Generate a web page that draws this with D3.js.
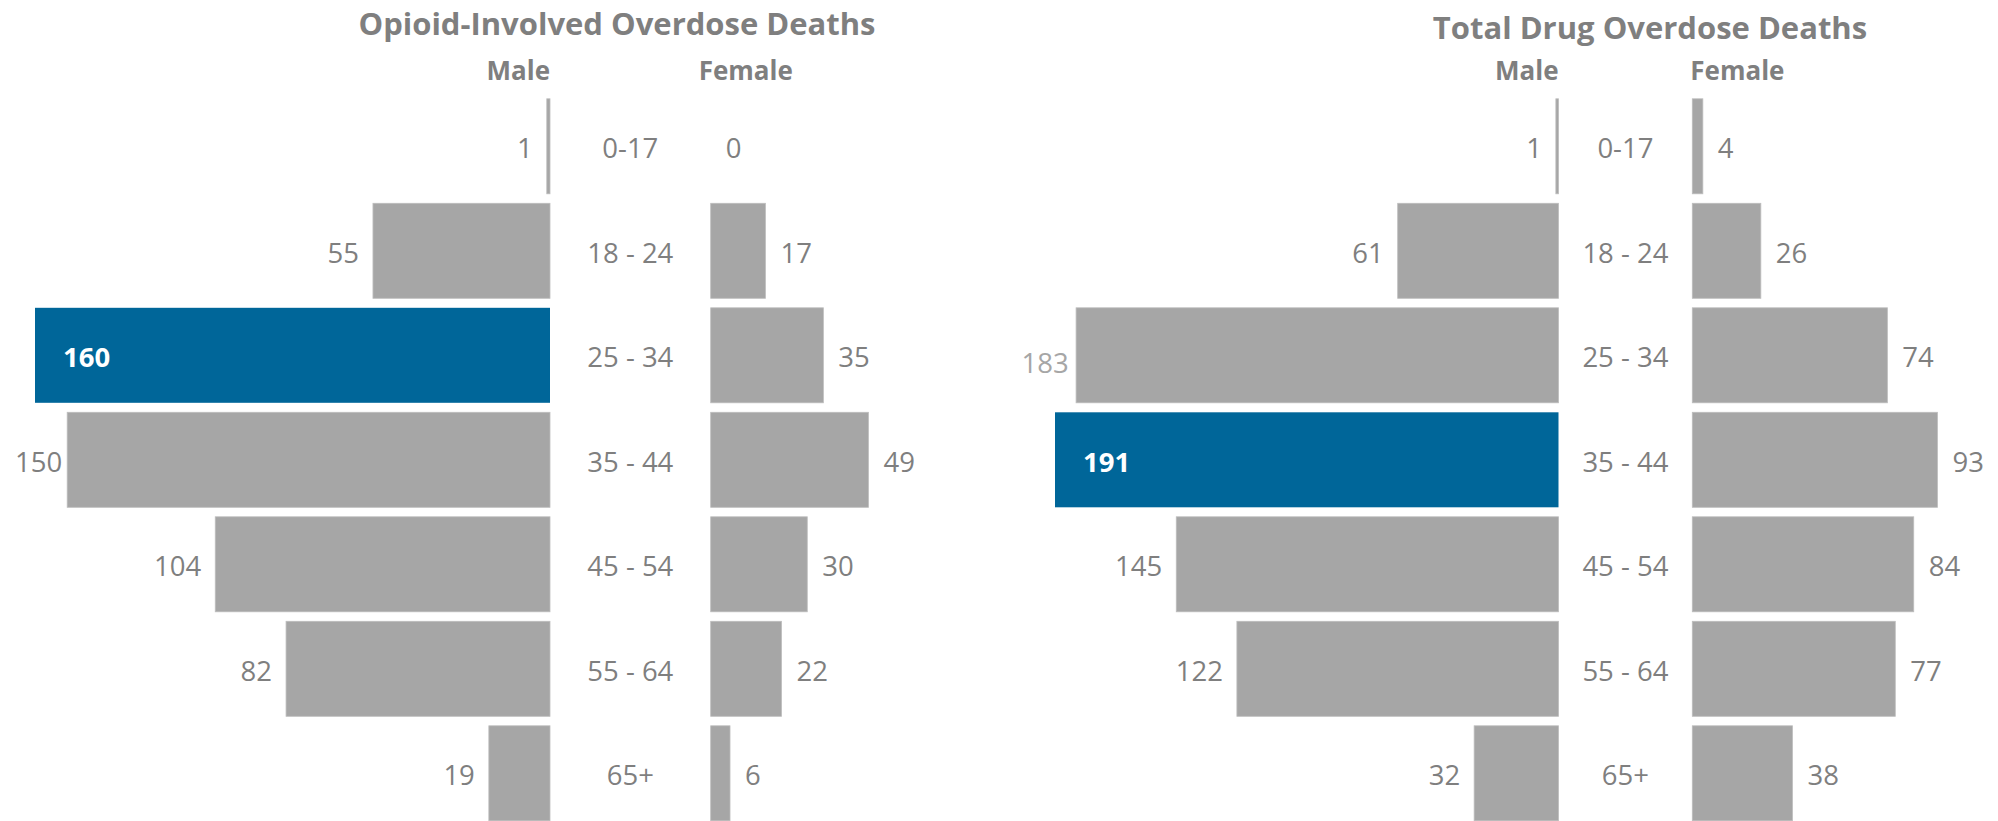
<!DOCTYPE html>
<html>
<head>
<meta charset="utf-8">
<script src="https://cdn.jsdelivr.net/npm/d3@7"></script>
<style>
  html, body { margin: 0; padding: 0; background: #ffffff; }
  svg { display: block; font-family: "Open Sans", "Noto Sans", sans-serif; }
</style>
</head>
<body>
<svg id="chart" width="1998" height="821"></svg>
<script>
// ---- data ----
const ageGroups = ["0-17", "18 - 24", "25 - 34", "35 - 44", "45 - 54", "55 - 64", "65+"];
const opioidMale   = [1, 55, 160, 150, 104, 82, 19];
const opioidFemale = [0, 17, 35, 49, 30, 22, 6];
const totalMale    = [1, 61, 183, 191, 145, 122, 32];
const totalFemale  = [4, 26, 74, 93, 84, 77, 38];
const panelTitles  = ["Opioid-Involved Overdose Deaths", "Total Drug Overdose Deaths"];
const sexLabels    = ["Male", "Female"];

// ---- layout / style ----
const GRAY_BAR = "#a6a6a6", BLUE = "#006699", TEXT = "#7f7f7f", MUTED = "#a6a6a6";
const svg = d3.select("#chart");

const y = d3.scaleBand()
  .domain(ageGroups)
  .range([94.05, 94.05 + 7 * 104.5])
  .paddingInner(0.0909)
  .paddingOuter(0.04545);

const panels = [
  { title: panelTitles[0], male: opioidMale, female: opioidFemale,
    maleBase: 550, femaleBase: 710.7, maxVal: 160, maxPx: 515,
    minLabelX: 15, titleX: 617, titleY: 35, femaleHeadDx: -12, muted: null },
  { title: panelTitles[1], male: totalMale, female: totalFemale,
    maleBase: 1558.5, femaleBase: 1692.3, maxVal: 191, maxPx: 503.5,
    minLabelX: 1021.5, titleX: 1650, titleY: 39, femaleHeadDx: -2, muted: "25 - 34" }
];

const FS = 27.5;
const baseOff = 12;

panels.forEach(p => {
  const g = svg.append("g");
  const w = d3.scaleLinear().domain([0, p.maxVal]).range([0, p.maxPx]);
  const maxMale = d3.max(p.male);

  // title
  g.append("text")
    .attr("x", p.titleX).attr("y", p.titleY)
    .attr("text-anchor", "middle")
    .attr("font-weight", "bold").attr("font-size", 31)
    .attr("fill", TEXT).text(p.title);

  // sex headers
  g.append("text")
    .attr("x", p.maleBase).attr("y", 80)
    .attr("text-anchor", "end")
    .attr("font-weight", "bold").attr("font-size", 26)
    .attr("fill", TEXT).text(sexLabels[0]);
  g.append("text")
    .attr("x", p.femaleBase + p.femaleHeadDx).attr("y", 80)
    .attr("text-anchor", "start")
    .attr("font-weight", "bold").attr("font-size", 26)
    .attr("fill", TEXT).text(sexLabels[1]);

  const rows = ageGroups.map((a, i) => ({ age: a, m: p.male[i], f: p.female[i] }));

  // male bars
  g.selectAll("rect.male").data(rows).join("rect")
    .attr("class", "male")
    .attr("x", d => p.maleBase - w(d.m))
    .attr("y", d => y(d.age))
    .attr("width", d => w(d.m))
    .attr("height", y.bandwidth())
    .attr("fill", d => d.m === maxMale ? BLUE : GRAY_BAR)
    .attr("stroke", d => d.m === maxMale ? "none" : "#bdbdbd")
    .attr("stroke-width", 0.8);

  // female bars
  g.selectAll("rect.female").data(rows).join("rect")
    .attr("class", "female")
    .attr("x", p.femaleBase)
    .attr("y", d => y(d.age))
    .attr("width", d => w(d.f))
    .attr("height", y.bandwidth())
    .attr("fill", GRAY_BAR)
    .attr("stroke", d => d.f > 0 ? "#bdbdbd" : "none")
    .attr("stroke-width", 0.8);

  // age labels
  g.selectAll("text.age").data(rows).join("text")
    .attr("class", "age")
    .attr("x", (p.maleBase + p.femaleBase) / 2)
    .attr("y", d => y(d.age) + y.bandwidth() / 2 + baseOff)
    .attr("text-anchor", "middle")
    .attr("font-size", FS).attr("fill", TEXT)
    .text(d => d.age);

  // male value labels
  g.selectAll("text.mval").data(rows).join("text")
    .attr("class", "mval")
    .attr("font-size", FS)
    .attr("y", d => y(d.age) + y.bandwidth() / 2 + baseOff + (d.age === p.muted ? 6 : 0))
    .each(function (d) {
      const t = d3.select(this).text(d.m);
      const end = p.maleBase - w(d.m);
      if (d.m === maxMale) {
        t.attr("x", end + 28).attr("text-anchor", "start")
         .attr("font-weight", "bold").attr("fill", "#ffffff");
      } else {
        t.attr("text-anchor", "end")
         .attr("fill", d.age === p.muted ? MUTED : TEXT);
        const len = this.getComputedTextLength();
        let x = end - 14;
        if (x - len < p.minLabelX) x = p.minLabelX + len;
        t.attr("x", x);
      }
    });

  // female value labels
  g.selectAll("text.fval").data(rows).join("text")
    .attr("class", "fval")
    .attr("x", d => p.femaleBase + w(d.f) + 15)
    .attr("y", d => y(d.age) + y.bandwidth() / 2 + baseOff)
    .attr("text-anchor", "start")
    .attr("font-size", FS).attr("fill", TEXT)
    .text(d => d.f);
});
</script>
</body>
</html>
